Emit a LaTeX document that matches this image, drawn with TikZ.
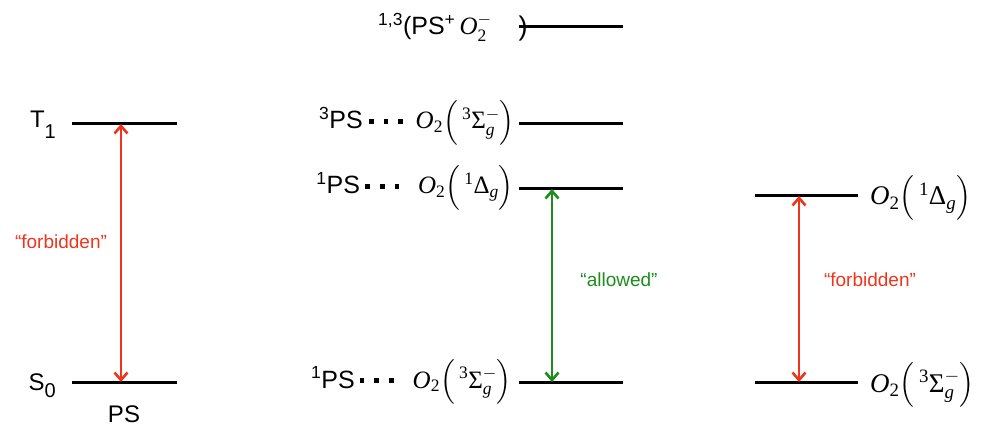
\documentclass[tikz,border=0pt]{standalone}
\usepackage{fix-cm}
\usepackage{amsmath}
\usepackage{fontspec}
\setmainfont{Liberation Sans}
\newfontfamily\tnr{Liberation Serif}
\usetikzlibrary{arrows.meta}
\definecolor{fred}{RGB}{240,52,28}
\definecolor{agreen}{RGB}{28,140,28}
\newcommand{\sqd}{\rule[0.2em]{0.19em}{0.19em}}
\newcommand{\sqdots}{\sqd\hspace{0.4em}\sqd\hspace{0.4em}\sqd}
\newcommand{\OSig}{$\text{\tnr\itshape O}_{\text{\tnr 2}}\Bigl(\,{}^{\text{\tnr 3}}\text{\tnr Σ}^{-}_{\text{\tnr\itshape g}}\Bigr)$}
\newcommand{\ODel}{$\text{\tnr\itshape O}_{\text{\tnr 2}}\Bigl(\,{}^{\text{\tnr 1}}\text{\tnr Δ}_{\text{\tnr\itshape g}}\Bigr)$}
\tikzset{
  level/.style={line width=3pt},
  trans/.style={line width=2.6pt, {Straight Barb[length=7.5pt,width=13pt]}-{Straight Barb[length=7.5pt,width=13pt]}},
  sans/.style={inner sep=0pt, font=\fontsize{24}{28}\selectfont},
  mid/.style={inner sep=0pt, font=\fontsize{25}{30}\selectfont},
  rgt/.style={inner sep=0pt, font=\fontsize{27}{32}\selectfont},
  note/.style={inner sep=0pt, font=\fontsize{19}{23}\selectfont}
}
\begin{document}
\begin{tikzpicture}[x=1pt,y=-1pt]
\useasboundingbox (0,0) rectangle (982,427);
% left levels
\coordinate (T1a) at (72,124); \coordinate (T1b) at (177,124);
\coordinate (S0a) at (72,382); \coordinate (S0b) at (177,382);
\draw[level] (T1a) -- (T1b);
\draw[level] (S0a) -- (S0b);
\coordinate (lt) at (121,124); \coordinate (lb) at (121,382);
\draw[trans, fred] (lt) -- (lb);
\node[sans, anchor=base east] (T1) at (56,128) {T\raisebox{-0.45em}{\fontsize{20}{22}\selectfont 1}};
\node[sans, anchor=base east] (S0) at (56,390) {S\raisebox{-0.32em}{\fontsize{20}{22}\selectfont 0}};
\node[sans, anchor=base] (PS) at (124,422) {PS};
\node[note, text=fred] (f1) at (61,242) {“forbidden”};
% middle levels
\coordinate (Ma) at (519,27); \coordinate (Mb) at (623,27);
\coordinate (Ta) at (519,124); \coordinate (Tb) at (623,124);
\coordinate (Da) at (519,189); \coordinate (Db) at (623,189);
\coordinate (Ga) at (519,382); \coordinate (Gb) at (623,382);
\draw[level] (Ma) -- (Mb);
\draw[level] (Ta) -- (Tb);
\draw[level] (Da) -- (Db);
\draw[level] (Ga) -- (Gb);
\coordinate (mt) at (552,189); \coordinate (mb) at (552,382);
\draw[trans, agreen] (mt) -- (mb);
\node[mid, anchor=base west] (CT) at (378,35) {\textsuperscript{1,3}(PS\textsuperscript{+}\,$\text{\tnr\itshape O}^{-}_{\text{\tnr 2}}$};
\node[mid, anchor=base] (CTp) at (523,36) {\fontsize{27}{30}\selectfont )};
\node[mid, anchor=base east] (L3) at (515,129) {\textsuperscript{3}PS\hspace{0.25em}\sqdots\hspace{0.5em}\OSig};
\node[mid, anchor=base east] (L1D) at (514,194) {\textsuperscript{1}PS\hspace{0.2em}\sqdots\hspace{0.75em}\ODel};
\node[mid, anchor=base east] (L1S) at (512,388) {\textsuperscript{1}PS\hspace{0.2em}\sqdots\hspace{0.75em}\OSig};
\node[note, text=agreen] (al) at (619,280) {“allowed”};
% right levels
\coordinate (RDa) at (755,196); \coordinate (RDb) at (858,196);
\coordinate (RSa) at (755,382); \coordinate (RSb) at (858,382);
\draw[level] (RDa) -- (RDb);
\draw[level] (RSa) -- (RSb);
\coordinate (rt) at (799,196); \coordinate (rb) at (799,382);
\draw[trans, fred] (rt) -- (rb);
\node[rgt, anchor=base west] (RD) at (870,205) {\ODel};
\node[rgt, anchor=base west] (RS) at (870,392) {\OSig};
\node[note, text=fred] (f2) at (870,280) {“forbidden”};
\end{tikzpicture}
\end{document}
